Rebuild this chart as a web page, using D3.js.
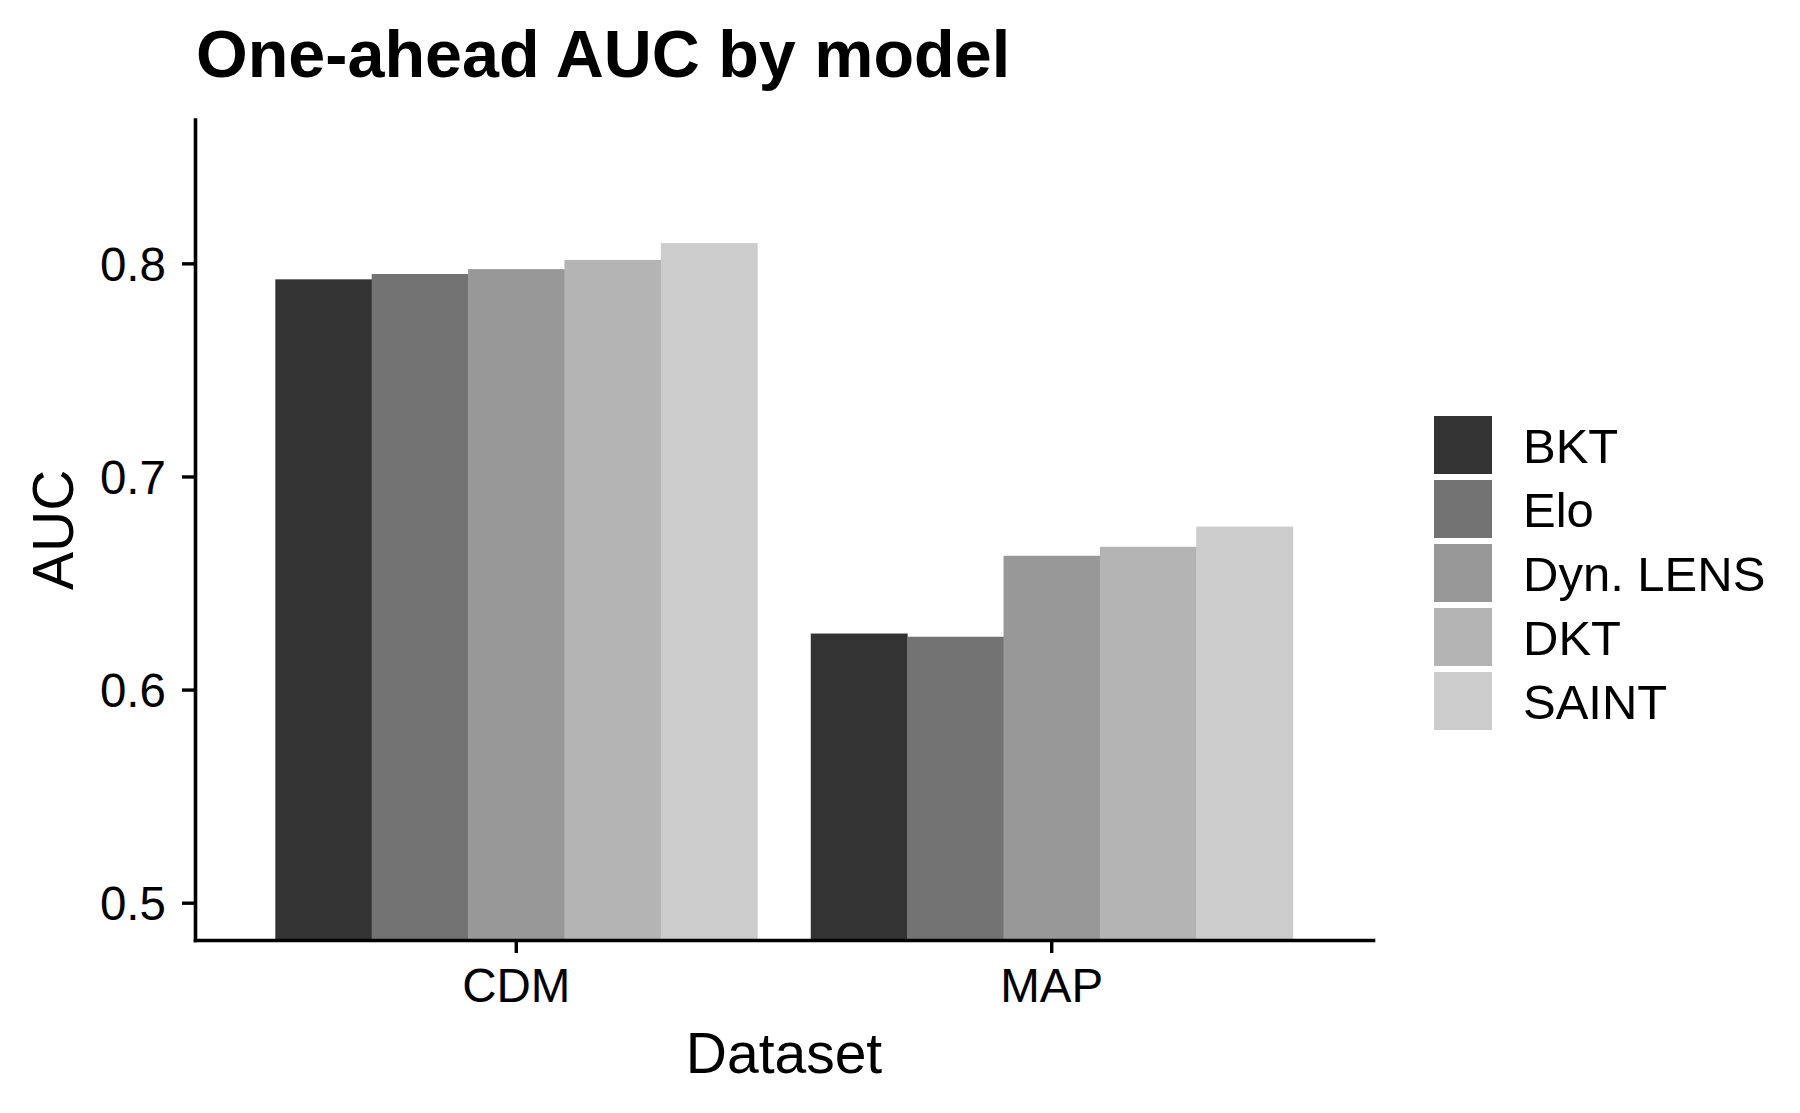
<!DOCTYPE html>
<html>
<head>
<meta charset="utf-8">
<script src="https://cdn.jsdelivr.net/npm/d3@7"></script>
<style>
  html, body { margin: 0; padding: 0; background: #fff; }
  svg { display: block; font-family: "Liberation Sans", Arial, Helvetica, sans-serif; }
</style>
</head>
<body>
<div id="chart"></div>
<script>

// Data
var datasets = ["CDM", "MAP"];
var models = ["BKT", "Elo", "Dyn. LENS", "DKT", "SAINT"];
var aucCDM = [0.7925, 0.795, 0.7973, 0.8016, 0.8095];
var aucMAP = [0.6263, 0.6248, 0.6628, 0.667, 0.6765];
var yTicks = [0.5, 0.6, 0.7, 0.8];

// grey fill scale (ggplot scale_fill_grey)
var fills = ["#333333", "#737373", "#989898", "#b4b4b4", "#cccccc"];

var width = 1800, height = 1113;
var panel = {left: 195, right: 1373, top: 119.5, bottom: 940};

var rows = [];
datasets.forEach(function(ds, i){
  var vals = i === 0 ? aucCDM : aucMAP;
  models.forEach(function(m, j){
    rows.push({dataset: ds, model: m, auc: vals[j]});
  });
});

var svg = d3.select("#chart").append("svg")
    .attr("width", width)
    .attr("height", height);

// Scales
var x = d3.scaleBand()
    .domain(datasets)
    .range([panel.left, panel.right])
    .paddingInner(0.1)
    .paddingOuter(0.15);

var xInner = d3.scaleBand()
    .domain(models)
    .range([0, x.bandwidth()]);

var y = d3.scaleLinear()
    .domain([0.4825, 0.8675])
    .range([panel.bottom, panel.top]);

var fill = d3.scaleOrdinal()
    .domain(models)
    .range(fills);

// Bars
svg.append("g").selectAll("rect")
    .data(rows)
  .enter().append("rect")
    .attr("x", function(d){ return x(d.dataset) + xInner(d.model); })
    .attr("width", xInner.bandwidth() + 0.5)
    .attr("y", function(d){ return y(d.auc); })
    .attr("height", function(d){ return panel.bottom - y(d.auc); })
    .attr("fill", function(d){ return fill(d.model); });

// Axes
var yAxis = svg.append("g")
    .attr("transform", "translate(" + panel.left + ",0)")
    .call(d3.axisLeft(y)
      .tickValues(yTicks)
      .tickFormat(d3.format(".1f"))
      .tickSize(13)
      .tickSizeOuter(0)
      .tickPadding(16));

var xAxis = svg.append("g")
    .attr("transform", "translate(0," + panel.bottom + ")")
    .call(d3.axisBottom(x)
      .tickSize(13)
      .tickSizeOuter(0)
      .tickPadding(15));

[yAxis, xAxis].forEach(function(a){
  a.select(".domain")
      .attr("stroke", "#000")
      .attr("stroke-width", 3.6)
      .attr("stroke-linecap", "square");
  a.selectAll(".tick line").attr("stroke", "#000").attr("stroke-width", 3.4);
  a.selectAll(".tick text")
      .attr("fill", "#000")
      .style("font-size", "47.5px")
      .style("font-family", "'Liberation Sans', Arial, Helvetica, sans-serif");
});
yAxis.selectAll(".tick text").attr("dy", "0.36em");

// Titles
svg.append("text")
    .attr("x", 196)
    .attr("y", 77)
    .attr("font-size", 66.5)
    .attr("font-weight", "bold")
    .text("One-ahead AUC by model");

svg.append("text")
    .attr("x", (panel.left + panel.right) / 2)
    .attr("y", 1073)
    .attr("text-anchor", "middle")
    .attr("font-size", 57)
    .text("Dataset");

svg.append("text")
    .attr("transform", "translate(73," + (panel.top + panel.bottom) / 2 + ") rotate(-90)")
    .attr("text-anchor", "middle")
    .attr("font-size", 57)
    .text("AUC");

// Legend
var legend = svg.append("g")
    .attr("transform", "translate(1434,416)");

var item = legend.selectAll("g")
    .data(models)
  .enter().append("g")
    .attr("transform", function(d, i){ return "translate(0," + i * 64 + ")"; });

item.append("rect")
    .attr("width", 58)
    .attr("height", 58)
    .attr("fill", function(d){ return fill(d); });

item.append("text")
    .attr("x", 89)
    .attr("y", 29)
    .attr("dy", "0.36em")
    .attr("font-size", 49)
    .text(function(d){ return d; });

</script>
</body>
</html>
